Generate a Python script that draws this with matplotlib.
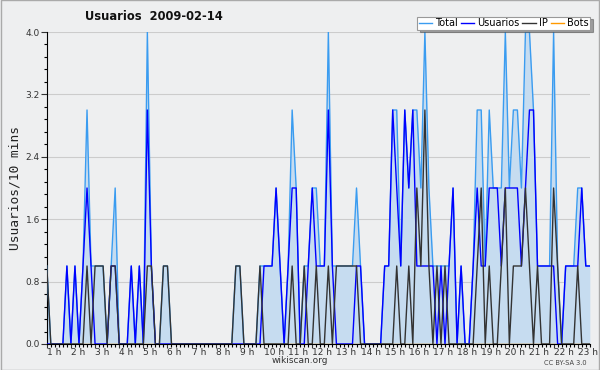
import matplotlib
matplotlib.use("Agg")
import matplotlib.pyplot as plt
import numpy as np

# 10-minute samples starting at 1 h
total = [1, 0, 0, 0, 0, 1, 0, 1, 0, 1, 3, 1, 1, 1, 1, 0, 1, 2, 0, 0,
         0, 1, 0, 1, 0, 4, 1, 0, 0, 1, 1, 0, 0, 0, 0, 0, 0, 0, 0, 0,
         0, 0, 0, 0, 0, 0, 0, 1, 1, 0, 0, 0, 0, 1, 1, 1, 1, 2, 1, 0,
         1, 3, 2, 0, 1, 1, 2, 2, 1, 1, 4, 1, 1, 1, 1, 1, 1, 2, 1, 0,
         0, 0, 0, 0, 1, 1, 3, 3, 1, 3, 2, 3, 3, 2, 4, 2, 1, 1, 1, 1,
         1, 2, 0, 1, 0, 0, 1, 3, 3, 1, 3, 2, 2, 2, 4, 2, 3, 3, 2, 4,
         4, 3, 1, 1, 1, 1, 4, 1, 0, 1, 1, 1, 2, 2, 1, 1]
usuarios = [0, 0, 0, 0, 0, 1, 0, 1, 0, 1, 2, 1, 0, 0, 0, 0, 1, 1, 0, 0,
            0, 1, 0, 1, 0, 3, 1, 0, 0, 0, 0, 0, 0, 0, 0, 0, 0, 0, 0, 0,
            0, 0, 0, 0, 0, 0, 0, 0, 0, 0, 0, 0, 0, 0, 1, 1, 1, 2, 1, 0,
            1, 2, 2, 0, 0, 1, 2, 1, 1, 1, 3, 1, 0, 0, 0, 0, 0, 1, 1, 0,
            0, 0, 0, 0, 1, 1, 3, 2, 1, 3, 2, 3, 1, 1, 1, 1, 1, 0, 1, 0,
            1, 2, 0, 1, 0, 0, 1, 2, 1, 1, 2, 2, 2, 1, 2, 2, 2, 2, 1, 2,
            3, 3, 1, 1, 1, 1, 1, 0, 0, 1, 1, 1, 1, 2, 1, 1]
ip = [1, 0, 0, 0, 0, 0, 0, 0, 0, 0, 1, 0, 1, 1, 1, 0, 1, 1, 0, 0,
      0, 0, 0, 0, 0, 1, 1, 0, 0, 1, 1, 0, 0, 0, 0, 0, 0, 0, 0, 0,
      0, 0, 0, 0, 0, 0, 0, 1, 1, 0, 0, 0, 0, 1, 0, 0, 0, 0, 0, 0,
      0, 1, 0, 0, 1, 0, 0, 1, 0, 0, 1, 0, 1, 1, 1, 1, 1, 1, 0, 0,
      0, 0, 0, 0, 0, 0, 0, 1, 0, 0, 1, 0, 2, 1, 3, 1, 0, 1, 0, 1,
      0, 0, 0, 0, 0, 0, 0, 1, 2, 0, 1, 0, 0, 1, 2, 0, 1, 1, 1, 2,
      1, 0, 1, 0, 0, 0, 2, 1, 0, 0, 0, 0, 1, 0, 0, 0]
bots = [0] * len(total)
hours = list(range(1, 24))

x = 1 + np.arange(len(total)) / 6.0

bg = '#eeeff0'
fig = plt.figure(figsize=(6, 3.7), dpi=100, facecolor=bg)
ax = fig.add_axes([0.078, 0.0703, 0.905, 0.8432])
ax.set_facecolor(bg)

ax.fill_between(x, 0, total, color='#c6dcf0', lw=0, zorder=1)
ax.plot(x, bots, color='#ff9900', lw=1, zorder=2, label='Bots')
ax.plot(x, total, color='#3a9cf0', lw=1, zorder=3, label='Total')
ax.plot(x, usuarios, color='#0000ff', lw=1, zorder=4, label='Usuarios')
ax.plot(x, ip, color='#333333', lw=1, zorder=5, label='IP')

ax.set_xlim(1, x[-1])
ax.set_ylim(0, 4.0)
ax.set_yticks(np.arange(0, 4.01, 0.8))
ax.set_yticklabels(['%.1f' % v for v in np.arange(0, 4.01, 0.8)])
ax.set_yticks(np.arange(0, 4.01, 0.16), minor=True)
ax.set_xticks(hours)
ax.set_xticklabels(['%d h' % h for h in hours])
ax.set_xticks(x, minor=True)
ax.grid(axis='y', color='#cccccc', lw=0.8, zorder=0)
ax.set_axisbelow(True)
for s in ['top', 'right']:
    ax.spines[s].set_visible(False)
ax.spines['left'].set_color('black')
ax.spines['bottom'].set_color('black')
ax.tick_params(axis='y', which='major', labelsize=6.5, length=4, width=0.8,
               colors='#333333', pad=1)
ax.tick_params(axis='x', which='major', labelsize=6.5, length=3, width=0.8,
               colors='#333333', pad=0)
ax.tick_params(axis='both', which='minor', length=2.5, width=0.8)
ax.tick_params(axis='x', which='both', direction='out')
for lab in ax.get_xticklabels():
    lab.set_horizontalalignment('left')

ax.set_ylabel('Usuarios/10 mins', fontsize=9.3, family='DejaVu Sans Mono',
              color='#222222', labelpad=3)

fig.text(0.142, 0.955, 'Usuarios  2009-02-14', fontsize=8.3, fontweight='bold',
         color='#111111', va='center')
fig.text(0.5, 0.025, 'wikiscan.org', fontsize=6.5, color='#333333', ha='center', va='center')
fig.text(0.978, 0.02, 'CC BY-SA 3.0', fontsize=4.8, color='#444444', ha='right', va='center')

handles, labels = ax.get_legend_handles_labels()
order = [1, 2, 3, 0]
leg = fig.legend([handles[i] for i in order], [labels[i] for i in order],
                 loc='upper right', bbox_to_anchor=(0.984, 0.955), ncol=4,
                 fontsize=7, frameon=True, fancybox=False, shadow=True,
                 handlelength=1.4, handletextpad=0.3, columnspacing=0.3,
                 borderpad=0.15, borderaxespad=0)
leg.get_frame().set_edgecolor('#999999')
leg.get_frame().set_facecolor('white')
leg.get_frame().set_linewidth(0.8)

fig.patches.append(plt.Rectangle((0.001, 0.001), 0.998, 0.998, transform=fig.transFigure,
                                 fill=False, edgecolor='#aaaaaa', lw=1))

fig.savefig('out.png', dpi=100, facecolor=bg)
